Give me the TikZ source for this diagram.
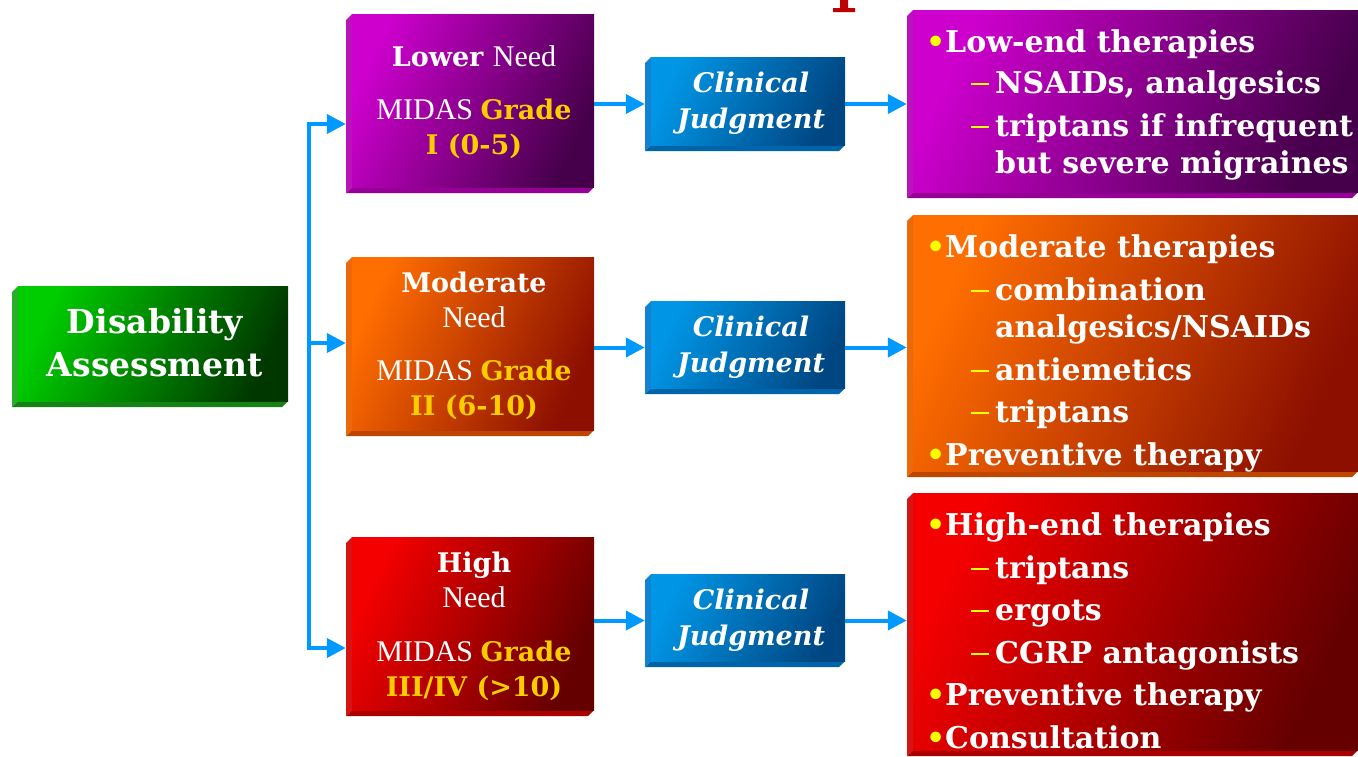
\documentclass[tikz,border=0pt]{standalone}
\usepackage{fontspec}
\setmainfont{DejaVu Serif}
\newfontfamily\regfont{Liberation Serif}
\usetikzlibrary{arrows.meta,fit}
\definecolor{arrblue}{RGB}{0,153,255}
\definecolor{gradeyel}{RGB}{255,204,0}
\definecolor{bulyel}{RGB}{255,255,0}
% green
\definecolor{gL}{RGB}{0,205,0}\definecolor{gD}{RGB}{0,55,0}\definecolor{gS}{RGB}{40,175,40}\definecolor{gB}{RGB}{20,130,20}
% purple
\definecolor{pL}{RGB}{205,0,205}\definecolor{pD}{RGB}{70,0,75}\definecolor{pS}{RGB}{185,20,185}\definecolor{pB}{RGB}{150,0,150}
% orange
\definecolor{oL}{RGB}{255,110,0}\definecolor{oD}{RGB}{140,15,0}\definecolor{oS}{RGB}{235,105,10}\definecolor{oB}{RGB}{190,70,0}
% red
\definecolor{rL}{RGB}{245,0,0}\definecolor{rD}{RGB}{100,0,0}\definecolor{rS}{RGB}{215,20,20}\definecolor{rB}{RGB}{170,0,0}
% blue
\definecolor{bL}{RGB}{0,150,230}\definecolor{bD}{RGB}{0,70,130}\definecolor{bS}{RGB}{20,130,210}\definecolor{bB}{RGB}{0,100,170}
\definecolor{titlered}{RGB}{190,0,0}
\newcommand{\bevbox}[9]{%
  \fill[#8] (#2,#3+6) -- (#2+6,#3) -- (#2+6,#5-6) -- (#2,#5) -- cycle;
  \fill[#9] (#2,#5) -- (#2+6,#5-6) -- (#4,#5-6) -- (#4-6,#5) -- cycle;
  \shade[left color=#6,right color=#7,shading angle=65] (#2+6,#3) rectangle (#4,#5-6);
  \coordinate (#1-nw) at (#2,#3);
  \coordinate (#1-se) at (#4,#5);
  \node[fit=(#1-nw)(#1-se),inner sep=0pt] (#1) {};
}
\newcommand{\gradeword}{{\rmfamily\bfseries\fontsize{27}{32}\selectfont\color{gradeyel}Grade}}
\newcommand{\ydash}{\raisebox{8pt}{\rule{18pt}{2.2pt}}}
\begin{document}
\begin{tikzpicture}[x=1pt,y=-1pt,
  conn/.style={arrblue,line width=4pt,-{Triangle[length=19pt,width=19pt]}},
  ltxt/.style={text=white,inner sep=0pt,anchor=base,font=\fontsize{27}{32}\selectfont\bfseries},
  reg/.style={text=white,inner sep=0pt,anchor=base,font=\regfont\fontsize{30}{34}\selectfont},
  gtxt/.style={text=white,inner sep=0pt,anchor=base,font=\fontsize{33}{40}\selectfont\bfseries},
  ctxt/.style={text=white,inner sep=0pt,anchor=base,font=\fontsize{27}{32}\selectfont\bfseries\itshape},
  rtxt/.style={text=white,inner sep=0pt,anchor=base west,font=\fontsize{30}{36}\selectfont\bfseries},
  bul/.style={text=bulyel,inner sep=0pt,anchor=base west,font=\fontsize{30}{36}\selectfont\bfseries},
]
\useasboundingbox (0,0) rectangle (1358,756);
% fragment of cut-off title letter
\fill[titlered] (840,0) rectangle (848,8) (833,8) -- (855,8) -- (855,12) -- (833,12) -- cycle;

% boxes
\bevbox{DA}{12}{286}{288}{407}{gL}{gD}{gS}{gB}
\bevbox{L1}{346}{14}{594}{193}{pL}{pD}{pS}{pB}
\bevbox{L2}{346}{257}{594}{436}{oL}{oD}{oS}{oB}
\bevbox{L3}{346}{537}{594}{716}{rL}{rD}{rS}{rB}
\bevbox{C1}{645}{57}{845}{151}{bL}{bD}{bS}{bB}
\bevbox{C2}{645}{301}{845}{394}{bL}{bD}{bS}{bB}
\bevbox{C3}{645}{574}{845}{667}{bL}{bD}{bS}{bB}
\bevbox{R1}{907}{10}{1358}{198}{pL}{pD}{pS}{pB}
\bevbox{R2}{907}{215}{1358}{477}{oL}{oD}{oS}{oB}
\bevbox{R3}{907}{493}{1358}{756}{rL}{rD}{rS}{rB}

% Disability Assessment
\node[gtxt] (da1) at (155,333) {Disability};
\node[gtxt] (da2) at (155,376) {Assessment};

% left boxes
\node[ltxt] (l1a) at (474,66) {Lower {\regfont\mdseries\fontsize{30}{34}\selectfont Need}};
\node[reg] (l1b) at (474,119) {MIDAS \gradeword};
\node[ltxt,text=gradeyel] (l1c) at (474,154) {I (0-5)};

\node[ltxt] (l2a) at (474,292) {Moderate};
\node[reg] (l2b) at (474,327) {Need};
\node[reg] (l2c) at (474,380) {MIDAS \gradeword};
\node[ltxt,text=gradeyel] (l2d) at (474,415) {II (6-10)};

\node[ltxt] (l3a) at (474,572) {High};
\node[reg] (l3b) at (474,607) {Need};
\node[reg] (l3c) at (474,661) {MIDAS \gradeword};
\node[ltxt,text=gradeyel] (l3d) at (474,696) {III/IV (>10)};

% clinical judgment
\node[ctxt] (c1a) at (751,92) {Clinical};
\node[ctxt] (c1b) at (751,128) {Judgment};
\node[ctxt] (c2a) at (751,336) {Clinical};
\node[ctxt] (c2b) at (751,372) {Judgment};
\node[ctxt] (c3a) at (751,609) {Clinical};
\node[ctxt] (c3b) at (751,645) {Judgment};

% right box 1
\node[bul] (r1b1) at (926,52) {•};
\node[rtxt] (r1t1) at (945,52) {Low-end therapies};
\node[bul] (r1d1) at (971,93) {\ydash};
\node[rtxt] (r1t2) at (995,93) {NSAIDs, analgesics};
\node[bul] (r1d2) at (971,136) {\ydash};
\node[rtxt] (r1t3) at (995,136) {triptans if infrequent};
\node[rtxt] (r1t4) at (995,173) {but severe migraines};

% right box 2
\node[bul] (r2b1) at (926,257) {•};
\node[rtxt] (r2t1) at (945,257) {Moderate therapies};
\node[bul] (r2d1) at (971,300) {\ydash};
\node[rtxt] (r2t2) at (995,300) {combination};
\node[rtxt] (r2t3) at (995,337) {analgesics/NSAIDs};
\node[bul] (r2d2) at (971,380) {\ydash};
\node[rtxt] (r2t4) at (995,380) {antiemetics};
\node[bul] (r2d3) at (971,422) {\ydash};
\node[rtxt] (r2t5) at (995,422) {triptans};
\node[bul] (r2b2) at (926,465) {•};
\node[rtxt] (r2t6) at (945,465) {Preventive therapy};

% right box 3
\node[bul] (r3b1) at (926,535) {•};
\node[rtxt] (r3t1) at (945,535) {High-end therapies};
\node[bul] (r3d1) at (971,578) {\ydash};
\node[rtxt] (r3t2) at (995,578) {triptans};
\node[bul] (r3d2) at (971,620) {\ydash};
\node[rtxt] (r3t3) at (995,620) {ergots};
\node[bul] (r3d3) at (971,663) {\ydash};
\node[rtxt] (r3t4) at (995,663) {CGRP antagonists};
\node[bul] (r3b2) at (926,705) {•};
\node[rtxt] (r3t5) at (945,705) {Preventive therapy};
\node[bul] (r3b3) at (926,748) {•};
\node[rtxt] (r3t6) at (945,748) {Consultation};

% connectors
\coordinate (vtop) at (309,124);
\coordinate (vmid) at (309,343);
\coordinate (vbot) at (309,648);
\draw[conn,{Triangle[length=19pt,width=19pt]}-{Triangle[length=19pt,width=19pt]}] (vtop -| L1.west) -- (vtop) -- (vbot) -- (vbot -| L3.west);
\draw[conn] (vmid) -- (vmid -| L2.west);
\draw[conn] (C1.west -| L1.east) -- (C1.west);
\draw[conn] (C2.west -| L2.east) -- (C2.west);
\draw[conn] (C3.west -| L3.east) -- (C3.west);
\draw[conn] (C1.east) -- (C1.east -| R1.west);
\draw[conn] (C2.east) -- (C2.east -| R2.west);
\draw[conn] (C3.east) -- (C3.east -| R3.west);
\end{tikzpicture}
\end{document}
